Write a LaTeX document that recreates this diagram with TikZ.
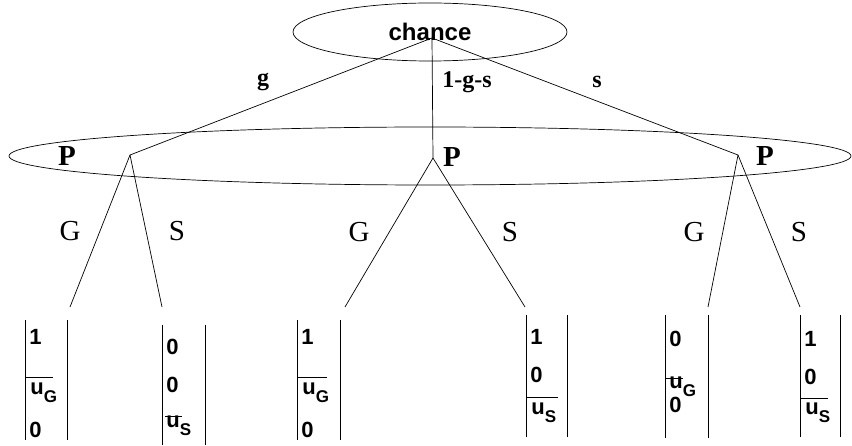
\documentclass[tikz,border=0pt]{standalone}
\usepackage{fontspec}
\setmainfont{Liberation Serif}
\setsansfont{Liberation Sans}
\usetikzlibrary{shapes.geometric}
\newcommand\paysub[1]{\raisebox{-8pt}{\fontsize{17}{17}\selectfont #1}}
\begin{document}
\begin{tikzpicture}[x=1pt,y=-1pt, line width=0.7pt,
  lbl/.style={font=\bfseries\fontsize{24}{24}\selectfont, inner sep=0},
  pl/.style={font=\bfseries\fontsize{29}{29}\selectfont, inner sep=0},
  act/.style={font=\fontsize{29}{29}\selectfont, inner sep=0},
  pay/.style={font=\sffamily\bfseries\fontsize{22}{22}\selectfont, inner sep=0, anchor=base west},
  bar/.style={line width=0.8pt}]
\fill[white] (0,0) rectangle (852,446);
\useasboundingbox (0,0) rectangle (852,446);

% information sets
\node[draw, ellipse, minimum width=274pt, minimum height=58pt, inner sep=0,
      font=\sffamily\bfseries\fontsize{24}{24}\selectfont] (chance) at (430,32) {chance};
\node[draw, ellipse, minimum width=842pt, minimum height=58pt, inner sep=0] (infoset) at (430,156) {};

% tree points
\coordinate (c0) at (432,38);
\coordinate (p1) at (130,155);
\coordinate (p2) at (433,158);
\coordinate (p3) at (738,155);
\coordinate (t1) at (70,307);
\coordinate (t2) at (162,307);
\coordinate (t3) at (345,307);
\coordinate (t4) at (525,307);
\coordinate (t5) at (708,307);
\coordinate (t6) at (800,307);

% edges
\draw (c0) -- (p1);
\draw (c0) -- (p2);
\draw (c0) -- (p3);
\draw (p1) -- (t1);
\draw (p1) -- (t2);
\draw (p2) -- (t3);
\draw (p2) -- (t4);
\draw (p3) -- (t5);
\draw (p3) -- (t6);

% chance labels
\node[lbl] (lg) at (263,82) {g};
\node[lbl] (lm) at (467,82) {1-g-s};
\node[lbl] (ls) at (597,82) {s};

% player labels
\node[pl] (P1) at (67,156) {P};
\node[pl] (P2) at (452,157) {P};
\node[pl] (P3) at (765,156) {P};

% action labels
\node[act] (G1) at (70,231) {G};
\node[act] (S1) at (177,231) {S};
\node[act] (G2) at (359,232) {G};
\node[act] (S2) at (510,232) {S};
\node[act] (G3) at (694,232) {G};
\node[act] (S3) at (799,232) {S};

% payoff vectors
% leaf 1
\draw[bar] (25,320) -- (25,440);
\draw[bar] (67,320) -- (67,440);
\node[pay] (v1a) at (29,345) {1};
\draw (25,377) -- (53,377);
\node[pay] (v1b) at (30,395) {u\paysub{G}};
\node[pay] (v1c) at (29,437) {0};
% leaf 2
\draw[bar] (162,325) -- (162,445);
\draw[bar] (205,325) -- (205,445);
\node[pay] (v2a) at (166,355) {0};
\node[pay] (v2b) at (166,393) {0};
\draw (165,416) -- (182,416);
\node[pay] (v2c) at (166,428) {u\paysub{S}};
% leaf 3
\draw[bar] (297,320) -- (297,440);
\draw[bar] (340,320) -- (340,440);
\node[pay] (v3a) at (301,345) {1};
\draw (297,377) -- (327,377);
\node[pay] (v3b) at (302,395) {u\paysub{G}};
\node[pay] (v3c) at (301,437) {0};
% leaf 4
\draw[bar] (526,315) -- (526,437);
\draw[bar] (567,315) -- (567,437);
\node[pay] (v4a) at (530,345) {1};
\node[pay] (v4b) at (530,383) {0};
\draw (526,397) -- (558,397);
\node[pay] (v4c) at (531,415) {u\paysub{S}};
% leaf 5
\draw[bar] (665,315) -- (665,438);
\draw[bar] (708,315) -- (708,438);
\node[pay] (v5a) at (669,347) {0};
\draw (665,378) -- (683,378);
\node[pay] (v5b) at (669,389) {u\paysub{G}};
\node[pay] (v5c) at (669,413) {0};
% leaf 6
\draw[bar] (800,315) -- (800,437);
\draw[bar] (840,315) -- (840,437);
\node[pay] (v6a) at (804,347) {1};
\node[pay] (v6b) at (804,385) {0};
\draw (800,398) -- (828,398);
\node[pay] (v6c) at (805,415) {u\paysub{S}};
\end{tikzpicture}
\end{document}
